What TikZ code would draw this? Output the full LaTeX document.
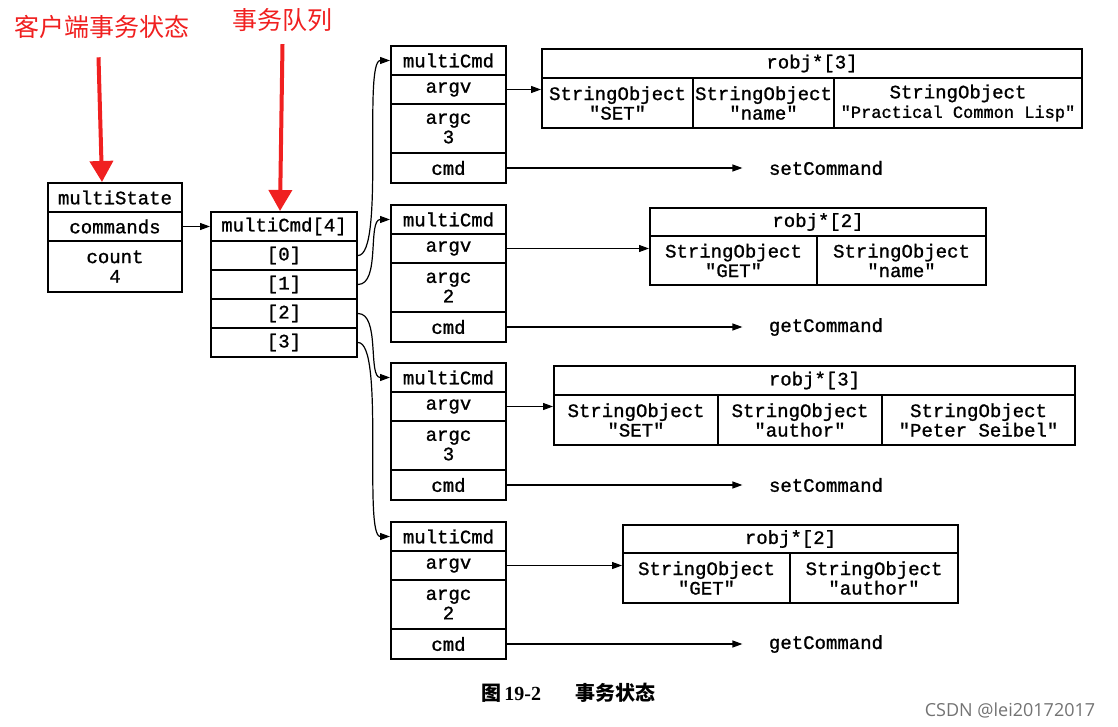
\documentclass[tikz,border=0pt]{standalone}
\usepackage{fontspec}
\setmainfont{Liberation Serif}
\setmonofont[FakeBold=1.2]{Liberation Mono}
\newfontfamily\cjk{Noto Sans CJK SC}
\newfontfamily\wmfont{Open Sans}
\usetikzlibrary{arrows.meta, positioning}
\definecolor{notered}{RGB}{240,32,32}

\begin{document}
\begin{tikzpicture}[
    x=1pt, y=-1pt,
    cell/.style={draw, line width=2pt, rectangle, inner sep=0pt, align=center,
        font=\fontsize{19}{19.5}\selectfont\ttfamily},
    row/.style={cell, minimum height=29pt},
    tall row/.style={cell, minimum height=49pt},
    func/.style={inner sep=0pt, font=\fontsize{19}{19.5}\selectfont\ttfamily},
    note/.style={text=notered, inner sep=0pt, font=\fontsize{25}{27}\selectfont\cjk},
    red arrow/.style={draw=notered, line width=4pt, -{Triangle[length=21pt,width=23pt]}},
    >={Triangle[length=10pt,width=7pt]},
    line width=1.2pt
]
    \useasboundingbox (0,0) rectangle (1118,727);

    % Client state
    \node[row, minimum width=134pt] (ms) at (115,197.5) {multiState};
    \node[row, minimum width=134pt] (cmds) at (115,226.5) {commands};
    \node[cell, minimum width=134pt, minimum height=51pt] (cnt) at (115,266.5) {count\\4};

    % Queue
    \node[row, minimum width=146pt] (arr) at (284,226.5) {multiCmd[4]};
    \foreach \k/\y in {0/255.5, 1/284.5, 2/313.5, 3/342.5}
        \node[row, minimum width=146pt] (r\k) at (284,\y) {[\k]};
    \draw[->] (cmds) -- (arr);

    % Red notes
    \node[note] (lbl1) at (101.5,27) {客户端事务状态};
    \node[note] (lbl2) at (282.5,20) {事务队列};
    \draw[red arrow] ([xshift=-3pt,yshift=-18pt]lbl1.south) -- ([xshift=-13pt]ms.north);
    \draw[red arrow] ([yshift=-12pt]lbl2.south) -- ([xshift=-4pt]arr.north);

    % Commands
    \foreach \i/\t/\c/\f in {1/46/3/setCommand, 2/205/2/getCommand, 3/363/3/setCommand, 4/522/2/getCommand} {
        \node[row, minimum width=115pt] (hd\i) at (448.5,\t+14.5) {multiCmd};
        \node[row, minimum width=115pt] (argv\i) at (448.5,\t+43.5) {argv};
        \node[tall row, minimum width=115pt] (argc\i) at (448.5,\t+82.5) {argc\\\c};
        \node[row, minimum width=115pt, minimum height=30pt] (cmd\i) at (448.5,\t+122) {cmd};
        \node[func] (fn\i) at (826,\t+122) {\f};
        \draw[->, shorten >=26pt] (cmd\i) -- (fn\i);
    }

    % Argument arrays
    \node[row, minimum width=540pt] (ro1) at (812,63.5) {robj*[3]};
    \node[cell, minimum width=151pt, minimum height=50pt] (s11) at (617.5,103) {StringObject\\"SET"};
    \node[cell, minimum width=141pt, minimum height=50pt] (s12) at (763.5,103) {StringObject\\"name"};
    \node[cell, minimum width=248pt, minimum height=50pt] (s13) at (958,103) {StringObject\\{\fontsize{17}{19.5}\selectfont"Practical Common Lisp"}};

    \node[row, minimum width=336pt, minimum height=28pt] (ro2) at (818,222) {robj*[2]};
    \node[cell, minimum width=167pt, minimum height=49pt] (s21) at (733.5,260.5) {StringObject\\"GET"};
    \node[cell, minimum width=169pt, minimum height=49pt] (s22) at (901.5,260.5) {StringObject\\"name"};

    \node[row, minimum width=521pt] (ro3) at (814.5,380.5) {robj*[3]};
    \node[cell, minimum width=164pt, minimum height=50pt] (s31) at (636,420) {StringObject\\"SET"};
    \node[cell, minimum width=164pt, minimum height=50pt] (s32) at (800,420) {StringObject\\"author"};
    \node[cell, minimum width=193pt, minimum height=50pt] (s33) at (978.5,420) {StringObject\\"Peter Seibel"};

    \node[row, minimum width=335pt, minimum height=28pt] (ro4) at (790.5,539) {robj*[2]};
    \node[cell, minimum width=167pt, minimum height=50pt] (s41) at (706.5,578) {StringObject\\"GET"};
    \node[cell, minimum width=168pt, minimum height=50pt] (s42) at (874,578) {StringObject\\"author"};

    \foreach \i/\j in {1/s11, 2/s21, 3/s31, 4/s41}
        \draw[->] (argv\i) -- (argv\i -| \j.west);

    % Queue entries to commands
    \draw[->] (r0) to[out=0, in=180, looseness=0.35] (hd1);
    \draw[->] (r1) to[out=0, in=180, looseness=0.8] (hd2);
    \draw[->] (r2) to[out=0, in=180, looseness=0.8] (hd3);
    \draw[->] (r3) to[out=0, in=180, looseness=0.35] (hd4);

    % Caption
    \node[font=\fontsize{20}{22}\selectfont] (cap) at (568,693)
        {{\cjk\bfseries 图}\,\textbf{19-2}\hspace{34pt}{\cjk\bfseries 事务状态}};
    \node[text=black!55, inner sep=0pt, font=\fontsize{18}{20}\selectfont\wmfont] (wm) at (1010,710) {CSDN @lei20172017};
\end{tikzpicture}
\end{document}
